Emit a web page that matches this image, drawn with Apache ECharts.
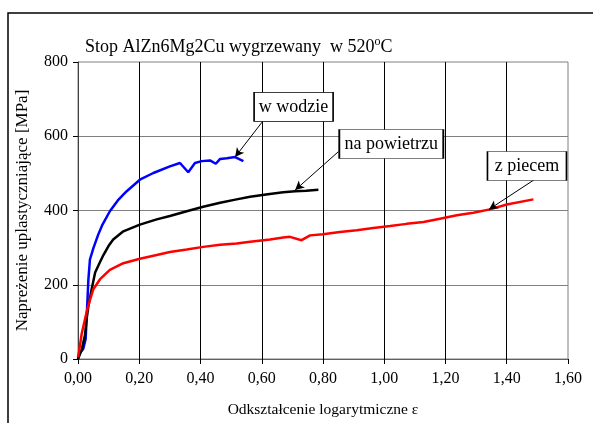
<!DOCTYPE html>
<html><head><meta charset="utf-8">
<script src="https://cdn.jsdelivr.net/npm/echarts@6/dist/echarts.min.js"></script>
<style>html,body{margin:0;padding:0;background:#fff}#c{width:593px;height:423px}</style>
</head><body><div id="c"></div>
<script>
// Data
const xTicks = [0, 0.2, 0.4, 0.6, 0.8, 1.0, 1.2, 1.4, 1.6];
const yTicks = [0, 200, 400, 600, 800];

const wodzieStrain = [0,0.005,0.017,0.025,0.03,0.034,0.039,0.05,0.066,0.08,0.104,0.13,0.159,0.202,0.246,0.30,0.333,0.36,0.382,0.404,0.431,0.45,0.464,0.486,0.513,0.54];
const wodzieStress = [0,15,27,54,143,215,268,298,335,362,398,427,452,483,501,519,528,503,528,533,535,526,539,541,544,533];

const powietrzuStrain = [0,0.012,0.023,0.028,0.034,0.045,0.056,0.07,0.083,0.1,0.115,0.148,0.202,0.257,0.30,0.355,0.409,0.464,0.518,0.562,0.62,0.67,0.709,0.745,0.785];
const powietrzuStress = [0,25,65,107,143,190,233,258,280,305,322,344,362,376,385,398,410,421,430,437,444,449,452,453,456];

const piecemStrain = [0,0.003,0.012,0.023,0.034,0.05,0.072,0.104,0.148,0.202,0.257,0.30,0.355,0.409,0.464,0.518,0.562,0.627,0.67,0.692,0.73,0.758,0.80,0.855,0.91,0.964,1.019,1.073,1.128,1.182,1.237,1.291,1.345,1.40,1.487];
const piecemStress = [5,18,68,108,145,188,215,240,258,270,280,288,295,302,308,311,316,322,327,329,320,333,336,342,347,353,358,364,369,378,387,394,403,416,430];

const seriesNames = ['w wodzie', 'na powietrzu', 'z piecem'];
// annotation box centres and arrow (start -> tip) in data units
const labelPos = [[0.704, 679], [1.023, 579], [1.466, 520]];
const arrowFrom = [[0.601, 638], [0.851, 559], [1.49, 483]];
const arrowTo = [[0.513, 544], [0.709, 455], [1.342, 403]];

const zip = (a, b) => a.map((v, i) => [v, b[i]]);
const FONT = 'Liberation Serif';
const colors = ['#0000ff', '#000000', '#ff0000'];
const boxSizes = [[79, 29], [104, 29], [79, 29]];
const datasets = [zip(wodzieStrain, wodzieStress), zip(powietrzuStrain, powietrzuStress), zip(piecemStrain, piecemStress)];

const chart = echarts.init(document.getElementById('c'));
chart.setOption({
  animation: false,
  backgroundColor: '#fff',
  title: {
    text: '{a|Stop AlZn6Mg2Cu wygrzewany  w 520}{s|o}{a|C}',
    left: 80, top: 31,
    textStyle: {
      fontWeight: 'normal',
      rich: {
        a: {fontFamily: FONT, fontSize: 18, fontWeight: 'normal', color: '#000', lineHeight: 22},
        s: {fontFamily: FONT, fontSize: 12, fontWeight: 'normal', color: '#000', lineHeight: 10, verticalAlign: 'top'}
      }
    }
  },
  graphic: [{type: 'rect', shape: {x: 8, y: 13, width: 620, height: 440}, style: {fill: 'none', stroke: '#000', lineWidth: 1.5}, z: 0}],
  grid: {left: 78, right: 25, top: 62, bottom: 63, show: true, borderColor: '#808080', borderWidth: 1},
  xAxis: {
    type: 'value', min: 0, max: 1.6, interval: 0.2,
    name: 'Odkształcenie logarytmiczne ε', nameLocation: 'middle', nameGap: 43,
    nameTextStyle: {fontFamily: FONT, fontSize: 15.5, color: '#000'},
    axisLine: {show: true, lineStyle: {color: '#606060', width: 1}},
    axisTick: {show: true, length: 5, lineStyle: {color: '#000'}},
    axisLabel: {fontFamily: FONT, fontSize: 16, color: '#000', margin: 12, formatter: v => v.toFixed(2).replace('.', ',')},
    splitLine: {show: true, showMinLine: false, showMaxLine: false, lineStyle: {color: '#000', width: 1}}
  },
  yAxis: {
    type: 'value', min: 0, max: 800, interval: 200,
    name: 'Napreżenie uplastyczniające [MPa]', nameLocation: 'middle', nameGap: 47,
    nameTextStyle: {fontFamily: FONT, fontSize: 17, color: '#000'},
    axisLine: {show: true, lineStyle: {color: '#404040', width: 1}},
    axisTick: {show: true, length: 5, lineStyle: {color: '#000'}},
    axisLabel: {fontFamily: FONT, fontSize: 16, color: '#000', margin: 10},
    splitLine: {show: true, showMinLine: false, showMaxLine: false, lineStyle: {color: '#808080', width: 1.2}}
  },
  series: datasets.map((d, i) => ({
    name: seriesNames[i], type: 'line', data: d, showSymbol: false, symbol: 'none',
    lineStyle: {color: colors[i], width: 2.5}, z: 3,
    markLine: {
      silent: true, symbol: ['none', 'arrow'], symbolSize: [7, 9], animation: false,
      lineStyle: {color: '#000', width: 1, type: 'solid'}, label: {show: false},
      data: [[{coord: arrowFrom[i]}, {coord: arrowTo[i]}]]
    },
    markPoint: {
      silent: true, animation: false,
      data: [{coord: labelPos[i], symbol: 'rect', symbolSize: boxSizes[i],
        itemStyle: {color: '#fff', borderColor: '#000', borderWidth: 1},
        label: {show: true, position: 'inside', formatter: seriesNames[i], fontFamily: FONT, fontSize: 18, color: '#000'}}]
    }
  }))
});
</script></body></html>
